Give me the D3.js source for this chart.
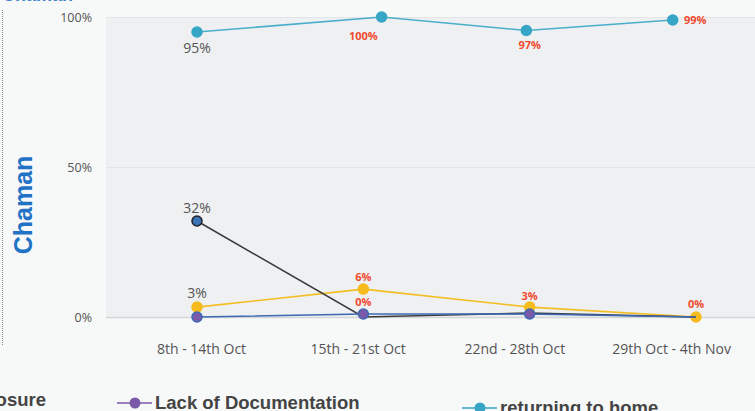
<!DOCTYPE html>
<html lang="en">
<head>
<meta charset="utf-8">
<title>Chaman</title>
<script src="https://cdn.jsdelivr.net/npm/d3@7"></script>
<style>
  body { margin: 0; background: #f7f8f8; }
  svg { display: block; font-family: "Open Sans", sans-serif; }
</style>
</head>
<body>
<script>
var weeks = ["8th - 14th Oct", "15th - 21st Oct", "22nd - 28th Oct", "29th Oct - 4th Nov"];
var yTicks = [0, 50, 100];

// values as plotted, labels as printed on the chart
var returningHome = [95, 100, 95.5, 99];
var returningPos = [0, 1.11, 1.98, 2.86];   // this series sits slightly off the week grid
var returningLabels = ["95%", "100%", "97%", "99%"];
var closure = [32, 0, 1.3, 0];
var closureLabels = ["32%", null, null, null];
var other = [3.3, 9.3, 3.3, 0];
var otherLabels = ["3%", "6%", "3%", "0%"];
var documentation = [0, 1, 1, 0];
var documentationLabels = [null, "0%", "1%", null];

var w = 755, h = 411;
var svg = d3.select("body").append("svg").attr("width", w).attr("height", h);

var x = d3.scaleLinear().domain([0, 3]).range([197, 696]);
var xLabel = d3.scalePoint().domain(weeks).range([201, 671]);
var y = d3.scaleLinear().domain([0, 100]).range([317, 17]);

// plot background
svg.append("rect").attr("x", 106).attr("y", y(100)).attr("width", w - 106)
  .attr("height", y(0) - y(100)).attr("fill", "#eef0f2");

// dotted left border
svg.append("line").attr("x1", 2.5).attr("x2", 2.5).attr("y1", 10).attr("y2", 345)
  .attr("stroke", "#888").attr("stroke-dasharray", "1,1");

// title, almost entirely cut off by the top edge
svg.append("text").attr("x", 2).attr("y", 1).text("Chaman")
  .attr("font-family", "Liberation Sans, Arial, sans-serif").attr("font-weight", "bold")
  .attr("font-size", 18).attr("fill", "#3a7fd0");

// grid lines
svg.append("g").selectAll("line").data(yTicks).enter().append("line")
  .attr("x1", 106).attr("x2", w)
  .attr("y1", function (d) { return y(d) + 0.5; })
  .attr("y2", function (d) { return y(d) + 0.5; })
  .attr("stroke", function (d) { return d === 0 ? "#d4d6d8" : "#e2e4e6"; })
  .attr("stroke-width", function (d) { return d === 0 ? 1.5 : 1; });

// y axis
var yAxis = svg.append("g").attr("transform", "translate(92,0)")
  .call(d3.axisLeft(y).tickValues(yTicks).tickSize(0)
    .tickFormat(function (d) { return d + "%"; }));
yAxis.select(".domain").remove();
yAxis.selectAll("text").attr("font-size", 12.5).attr("fill", "#555")
  .attr("font-family", "Open Sans, sans-serif").attr("x", 0);

// x axis
var xAxis = svg.append("g").attr("transform", "translate(0,341)")
  .call(d3.axisBottom(xLabel).tickSize(0));
xAxis.select(".domain").remove();
xAxis.selectAll("text").attr("font-size", 14).attr("fill", "#555")
  .attr("font-family", "Open Sans, sans-serif").attr("dy", "0.71em");

// side label
svg.append("text").attr("transform", "translate(32,205) rotate(-90)")
  .attr("text-anchor", "middle").text("Chaman")
  .attr("font-family", "Liberation Sans, Arial, sans-serif").attr("font-weight", "bold")
  .attr("font-size", 25).attr("fill", "#2272c6");

function drawSeries(values, pos, lineColor, fill, stroke, markers) {
  var pts = values.map(function (v, i) { return [x(pos[i]), y(v), markers[i]]; });
  svg.append("path").datum(pts)
    .attr("d", d3.line().x(function (d) { return d[0]; }).y(function (d) { return d[1]; }))
    .attr("fill", "none").attr("stroke", lineColor).attr("stroke-width", 1.6);
  svg.append("g").selectAll("circle").data(pts.filter(function (d) { return d[2]; }))
    .enter().append("circle")
    .attr("cx", function (d) { return d[0]; })
    .attr("cy", function (d) { return d[1]; })
    .attr("r", 5).attr("fill", fill).attr("stroke", stroke).attr("stroke-width", 1.5);
}

var idx = [0, 1, 2, 3];
drawSeries(other, idx, "#f4bd22", "#f6bb1c", "#f6bb1c", [true, true, true, true]);
drawSeries(closure, idx, "#3b3b3b", "#3b74b8", "#222", [true, false, false, false]);
drawSeries(documentation, idx, "#3d69b3", "#7a5aa8", "#3d69b3", [true, true, true, false]);
drawSeries(returningHome, returningPos, "#4aaecb", "#36a5c6", "#36a5c6", [true, true, true, true]);

function labels(values, texts, off) {
  svg.append("g").selectAll("text").data(values).enter().append("text")
    .filter(function (d, i) { return texts[i] !== null; })
    .attr("x", function (d, i) { return x(i) + off[i][0]; })
    .attr("y", function (d, i) { return y(d) + off[i][1]; })
    .attr("text-anchor", function (d, i) { return off[i][0] ? "start" : "middle"; })
    .attr("font-size", function (d, i) { return i === 0 ? 14 : 11; })
    .attr("font-weight", function (d, i) { return i === 0 ? "normal" : "bold"; })
    .attr("fill", function (d, i) { return i === 0 ? "#555" : "#f04a2e"; })
    .text(function (d, i) { return texts[i]; });
}

labels(returningHome, returningLabels, [[0, 21], [0, 23], [0, 18], [-12, 4]]);
labels(closure, closureLabels, [[0, -8], [0, 0], [0, 0], [0, 0]]);
labels(other, otherLabels, [[0, -9], [0, -8], [0, -7], [0, -9]]);
labels(documentation, documentationLabels, [[0, 0], [0, -8], [0, 18], [0, 0]]);

// legend
var legendFont = "Liberation Sans, Arial, sans-serif";
svg.append("text").attr("x", 46).attr("y", 406).attr("text-anchor", "end")
  .text("Border Closure").attr("font-family", legendFont).attr("font-weight", "bold")
  .attr("font-size", 18.5).attr("fill", "#444");

var legend = [
  { name: "Lack of Documentation", color: "#7a5aa8", x: 117, y: 403 },
  { name: "returning to home", color: "#36a5c6", x: 462, y: 408 }
];
var lg = svg.append("g").selectAll("g").data(legend).enter().append("g")
  .attr("transform", function (d) { return "translate(" + d.x + "," + d.y + ")"; });
lg.append("line").attr("x1", 0).attr("x2", 35).attr("stroke", function (d) { return d.color; })
  .attr("stroke-width", 1.6);
lg.append("circle").attr("cx", 18).attr("r", 5.5).attr("fill", function (d) { return d.color; });
lg.append("text").attr("x", 38).attr("y", 6).text(function (d) { return d.name; })
  .attr("font-family", legendFont).attr("font-weight", "bold").attr("font-size", 18.5)
  .attr("fill", "#444");
</script>
</body>
</html>
